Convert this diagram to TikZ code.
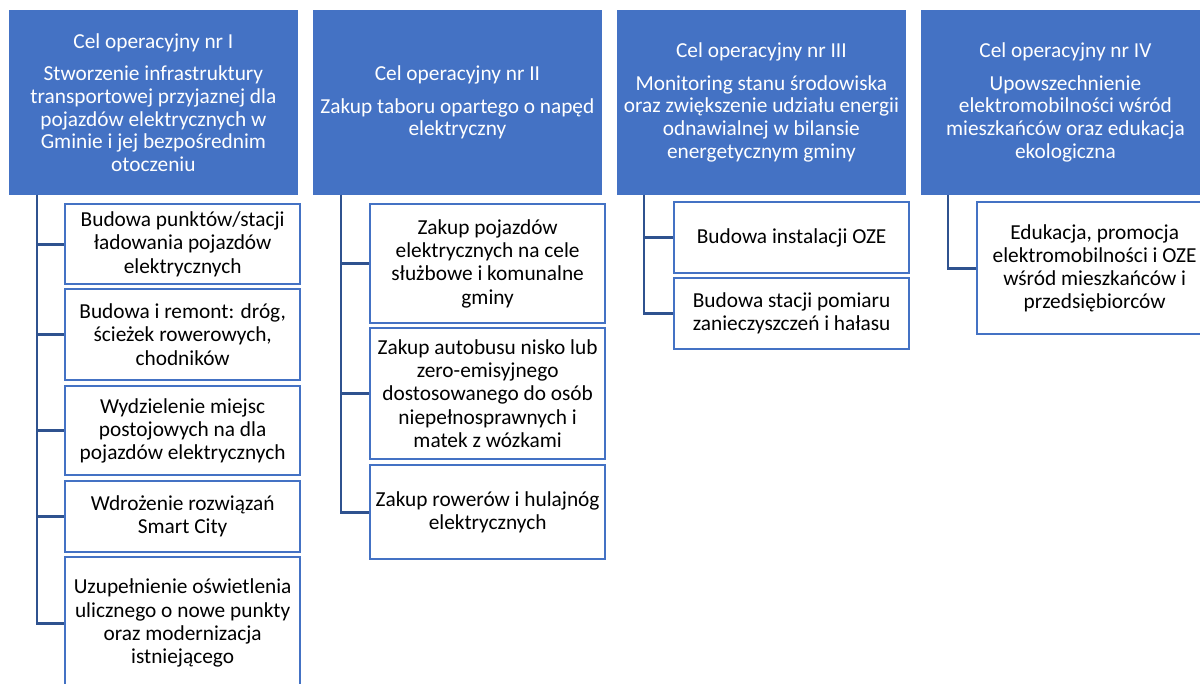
\documentclass[tikz,border=0pt]{standalone}
\usepackage{fontspec}
\setmainfont{Carlito}
\definecolor{hb}{HTML}{4472C4}
\definecolor{cn}{HTML}{2F528F}
\tikzset{
  head/.style={fill=hb, draw=white, line width=0.6pt, text=white, align=center, inner sep=1pt, anchor=north west, minimum width=217.5pt, minimum height=139.5pt, font=\fontsize{16}{17}\selectfont},
  sub/.style={fill=white, draw=hb, line width=1.7pt, text=black, align=center, inner sep=1pt, anchor=north west, minimum width=176.25pt, font=\fontsize{16}{17.4}\selectfont},
  conn/.style={draw=cn, line width=2.2pt}
}
\begin{document}
\begin{tikzpicture}[x=0.75pt,y=-0.75pt]
\useasboundingbox (0,0) rectangle (1200,684);
\clip (0,0) rectangle (1200,684);
\fill[white] (0,0) rectangle (1200,684);
% headers
\node[head] (h1) at (8,9) {Cel operacyjny nr I\\[7.5pt]Stworzenie infrastruktury\\transportowej przyjaznej dla\\pojazdów elektrycznych w\\Gminie i jej bezpośrednim\\otoczeniu};
\node[head] (h2) at (312,9) {Cel operacyjny nr II\\[7.5pt]Zakup taboru opartego o napęd\\elektryczny};
\node[head] (h3) at (616,9) {Cel operacyjny nr III\\[7.5pt]Monitoring stanu środowiska\\oraz zwiększenie udziału energii\\odnawialnej w bilansie\\energetycznym gminy};
\node[head] (h4) at (920,9) {Cel operacyjny nr IV\\[7.5pt]Upowszechnienie\\elektromobilności wśród\\mieszkańców oraz edukacja\\ekologiczna};
% column 1
\node[sub, minimum height=60pt] (c11) at (64,203) {Budowa punktów/stacji\\ładowania pojazdów\\elektrycznych};
\node[sub, minimum height=68.25pt] (c12) at (64,288) {Budowa i remont: dróg,\\ścieżek rowerowych,\\chodników};
\node[sub, minimum height=66.75pt] (c13) at (64,385) {Wydzielenie miejsc\\postojowych na dla\\pojazdów elektrycznych};
\node[sub, minimum height=53.25pt] (c14) at (64,480) {Wdrożenie rozwiązań\\Smart City};
\node[sub, minimum height=99pt] (c15) at (64,556) {Uzupełnienie oświetlenia\\ulicznego o nowe punkty\\oraz modernizacja\\istniejącego};
% column 2
\node[sub, minimum height=89.25pt] (c21) at (369,203) {Zakup pojazdów\\elektrycznych na cele\\służbowe i komunalne\\gminy};
\node[sub, minimum height=98.25pt] (c22) at (369,327) {Zakup autobusu nisko lub\\zero-emisyjnego\\dostosowanego do osób\\niepełnosprawnych i\\matek z wózkami};
\node[sub, minimum height=70.5pt] (c23) at (369,464) {Zakup rowerów i hulajnóg\\elektrycznych};
% column 3
\node[sub, minimum height=53.25pt] (c31) at (673,201) {Budowa instalacji OZE};
\node[sub, minimum height=53.25pt] (c32) at (673,277) {Budowa stacji pomiaru\\zanieczyszczeń i hałasu};
% column 4
\node[sub, minimum height=99pt] (c41) at (976,201) {Edukacja, promocja\\elektromobilności i OZE\\wśród mieszkańców i\\przedsiębiorców};
% connectors
\coordinate (v1) at (37,195);
\coordinate (v2) at (341,195);
\coordinate (v3) at (644,195);
\coordinate (v4) at (948,195);
\foreach \c in {c11,c12,c13,c14,c15} { \draw[conn] (v1) |- (\c.west); }
\foreach \c in {c21,c22,c23} { \draw[conn] (v2) |- (\c.west); }
\foreach \c in {c31,c32} { \draw[conn] (v3) |- (\c.west); }
\draw[conn] (v4) |- (c41.west);
\end{tikzpicture}
\end{document}
